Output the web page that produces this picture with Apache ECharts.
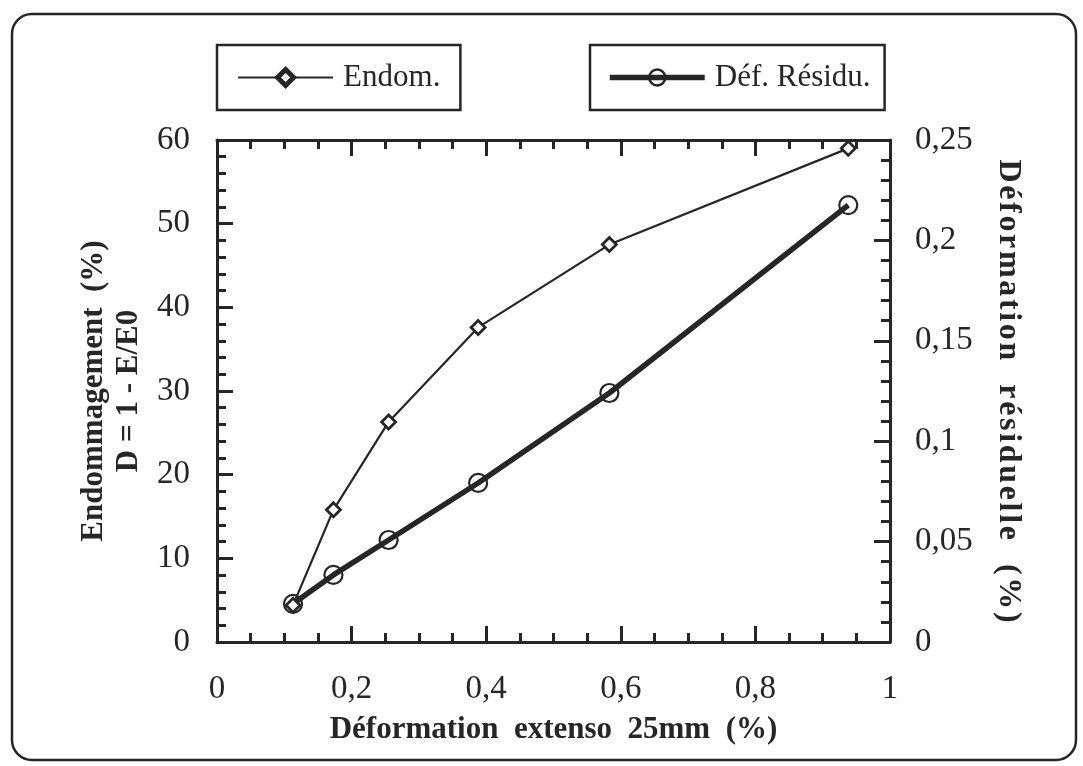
<!DOCTYPE html>
<html>
<head>
<meta charset="utf-8">
<script src="https://cdn.jsdelivr.net/npm/echarts@6/dist/echarts.min.js"></script>
<style>
html,body{margin:0;padding:0;background:#fff;}
#chart{width:1083px;height:766px;}
</style>
</head>
<body>
<div id="chart"></div>
<script>
// Data
var deformationExtenso = [0.113, 0.173, 0.255, 0.388, 0.583, 0.938];   // x, %
var endommagement      = [4.4, 15.8, 26.3, 37.6, 47.5, 59.0];           // left axis, %
var defResiduelle      = [0.019, 0.0334, 0.0508, 0.0792, 0.124, 0.2176]; // right axis, %

var seriesNames = ['Endom.', 'Déf. Résidu.'];
var xTitle = 'Déformation  extenso  25mm  (%)';
var yLeftTitle = 'Endommagement  (%)\nD = 1 - E/E0';
var yRightTitle = 'Déformation  résiduelle  (%)';

var INK = '#262626';
var FONT = '"Liberation Serif", "Times New Roman", serif';

function pairs(xs, ys) { return xs.map(function (x, i) { return [x, ys[i]]; }); }
function comma(v) { return String(+v.toFixed(3)).replace('.', ','); }
function spread(s) { return s.split('').join('\u200A'); }

var chart = echarts.init(document.getElementById('chart'), null, {renderer: 'canvas'});

var axisLineStyle = {show: true, onZero: false, lineStyle: {color: INK, width: 3}};
var axisTickStyle = {show: true, inside: true, length: 16, lineStyle: {color: INK, width: 3}};
function minor(n) { return {show: true, splitNumber: n, length: 9, lineStyle: {color: INK, width: 3}}; }

var option = {
  backgroundColor: '#ffffff',
  animation: false,
  textStyle: {fontFamily: FONT, color: INK},
  grid: {left: 217, right: 193, top: 140, bottom: 124, containLabel: false},
  graphic: [{
    type: 'rect', z: -1,
    shape: {x: 12, y: 14, width: 1064, height: 746, r: 20},
    style: {fill: 'none', stroke: INK, lineWidth: 2.5}
  }],
  legend: [{
    data: [seriesNames[0]], left: 217, top: 45,
    orient: 'horizontal', itemWidth: 95, itemHeight: 20,
    padding: [17, 20, 17, 20], borderColor: INK, borderWidth: 2.5,
    lineStyle: {width: 2.2},
    itemStyle: {borderWidth: 5},
    textStyle: {fontFamily: FONT, fontSize: 31, color: INK, padding: [0, 0, 0, 5]}
  }, {
    data: [seriesNames[1]], left: 590, top: 45,
    orient: 'horizontal', itemWidth: 95, itemHeight: 20,
    padding: [17, 14, 17, 17], borderColor: INK, borderWidth: 2.5,
    lineStyle: {width: 5.5},
    itemStyle: {borderWidth: 2.5},
    textStyle: {fontFamily: FONT, fontSize: 31, color: INK, padding: [0, 0, 0, 5]}
  }],
  xAxis: [{
    type: 'value', position: 'bottom', min: 0, max: 1, interval: 0.2,
    axisLine: axisLineStyle, axisTick: axisTickStyle, minorTick: minor(4),
    splitLine: {show: false},
    axisLabel: {fontFamily: FONT, fontSize: 33, color: INK, margin: 31, formatter: comma},
    name: xTitle, nameLocation: 'middle', nameGap: 72,
    nameTextStyle: {fontFamily: FONT, fontSize: 31, fontWeight: 'bold', color: INK}
  }, {
    type: 'value', position: 'top', min: 0, max: 1, interval: 0.2,
    axisLine: axisLineStyle, axisTick: axisTickStyle, minorTick: minor(4),
    axisLabel: {show: false}, splitLine: {show: false}
  }],
  yAxis: [{
    type: 'value', position: 'left', min: 0, max: 60, interval: 10,
    axisLine: axisLineStyle, axisTick: axisTickStyle, minorTick: minor(5),
    splitLine: {show: false},
    axisLabel: {fontFamily: FONT, fontSize: 33, color: INK, margin: 27},
    name: yLeftTitle, nameLocation: 'middle', nameRotate: 90, nameGap: 71,
    nameTextStyle: {fontFamily: FONT, fontSize: 31, fontWeight: 'bold', color: INK, lineHeight: 35, align: 'center'}
  }, {
    type: 'value', position: 'right', min: 0, max: 0.25, interval: 0.05,
    axisLine: axisLineStyle, axisTick: axisTickStyle, minorTick: minor(5),
    splitLine: {show: false},
    axisLabel: {fontFamily: FONT, fontSize: 33, color: INK, margin: 25, formatter: comma},
    name: spread(yRightTitle), nameLocation: 'middle', nameRotate: -90, nameGap: 102,
    nameTextStyle: {fontFamily: FONT, fontSize: 32, fontWeight: 'bold', color: INK}
  }],
  series: [{
    name: seriesNames[0], type: 'line', xAxisIndex: 0, yAxisIndex: 0,
    data: pairs(deformationExtenso, endommagement),
    symbol: 'diamond', symbolSize: 14,
    lineStyle: {color: INK, width: 2.2},
    itemStyle: {color: '#ffffff', borderColor: INK, borderWidth: 2.8},
    z: 3
  }, {
    name: seriesNames[1], type: 'line', xAxisIndex: 0, yAxisIndex: 1,
    data: pairs(deformationExtenso, defResiduelle),
    symbol: 'circle', symbolSize: 18,
    lineStyle: {color: INK, width: 5.5},
    itemStyle: {color: 'rgba(255,255,255,0)', borderColor: INK, borderWidth: 2.2},
    z: 2
  }]
};
chart.setOption(option);
</script>
</body>
</html>
